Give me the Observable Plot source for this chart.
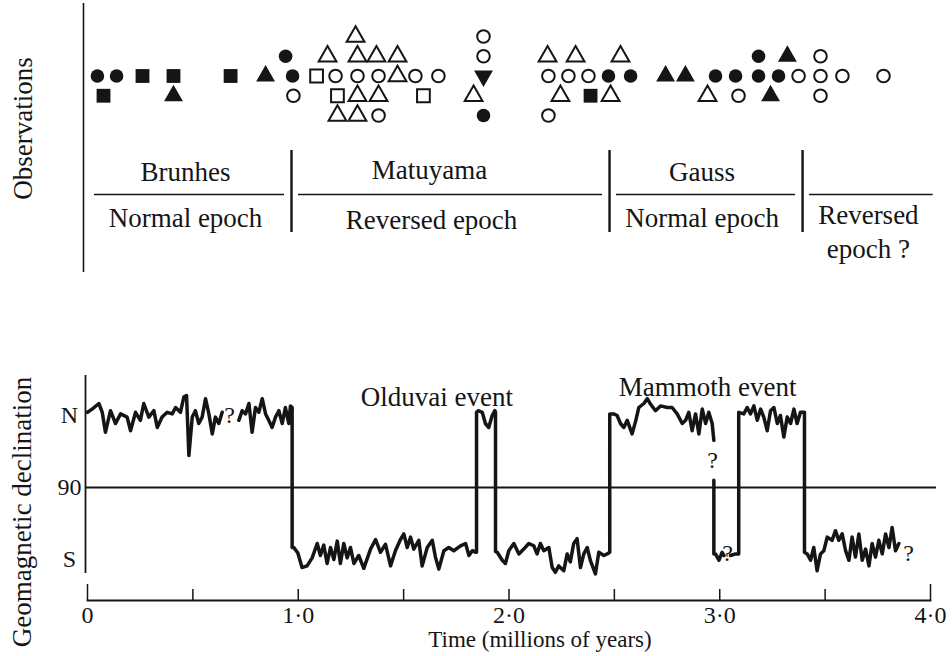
<!DOCTYPE html>
<html><head><meta charset="utf-8">
<script src="https://cdn.jsdelivr.net/npm/d3@7"></script>
<script src="https://cdn.jsdelivr.net/npm/@observablehq/plot@0.6"></script>
<style>
html,body{margin:0;padding:0;background:#fff;}
#chart{width:952px;height:656px;overflow:hidden;background:#fff;}
#chart svg{display:block;}
</style></head><body><div id="chart"></div>
<script>
// ---------- Observations (time in Myr, row = stacking level) ----------
const obsTime = [
  0.047,0.138,0.261,0.408,0.679,0.845,0.973,1.087,1.177,1.281,1.381,1.471,1.556,1.665,1.879,
  2.187,2.282,2.377,2.472,2.577,2.743,2.837,2.980,3.075,3.184,3.279,3.374,3.478,3.582,3.777,
  0.940,1.139,1.281,1.371,1.471,1.879,2.183,2.316,2.529,3.184,3.321,3.478,
  1.272,1.879,
  0.076,0.408,0.977,1.186,1.281,1.381,1.594,1.832,2.244,2.387,2.482,2.942,3.089,3.241,3.478,
  1.186,1.281,1.381,1.879,2.187
];
const obsRow = [
  0,0,0,0,0,0,0,0,0,0,0,0,0,0,0,
  0,0,0,0,0,0,0,0,0,0,0,0,0,0,0,
  1,1,1,1,1,1,1,1,1,1,1,1,
  2,2,
  -1,-1,-1,-1,-1,-1,-1,-1,-1,-1,-1,-1,-1,-1,-1,
  -2,-2,-2,-2,-2
];
const obsShape = [
  "circle","circle","square","square","square","triangle","circle","square","circle","circle","circle","triangle","circle","circle","triangleDown",
  "circle","circle","circle","circle","circle","triangle","triangle","circle","circle","circle","circle","circle","circle","circle","circle",
  "circle","triangle","triangle","triangle","triangle","circle","triangle","triangle","triangle","circle","triangle","circle",
  "triangle","circle",
  "square","triangle","circle","square","triangle","triangle","square","triangle","triangle","square","triangle","triangle","circle","triangle","circle",
  "triangle","triangle","circle","circle","circle"
];
const obsFill = [
  "filled","filled","filled","filled","filled","filled","filled","open","open","open","open","open","open","open","filled",
  "open","open","open","filled","filled","filled","filled","filled","filled","filled","filled","open","open","open","open",
  "filled","open","open","open","open","open","open","open","open","filled","filled","open",
  "open","open",
  "filled","filled","open","open","open","open","open","open","open","filled","open","open","open","filled","open",
  "open","open","open","filled","open"
];

// ---------- Epochs ----------
const epochName = ["Brunhes", "Matuyama", "Gauss", ""];
const epochKind = ["Normal epoch", "Reversed epoch", "Normal epoch", "Reversed\nepoch ?"];
const epochStart = [0, 0.968, 2.477, 3.393];
const epochEnd = [0.968, 2.477, 3.393, 4.046];

// ---------- Geomagnetic declination record ----------
const sigTime = [
  0.000,0.022,0.054,0.070,0.085,0.109,0.133,0.157,0.188,0.204,0.228,0.251,0.267,0.291,0.315,0.331,0.354,0.378,0.402,0.418,
  0.441,0.457,0.470,0.481,0.497,0.512,0.528,0.544,0.560,0.576,0.592,0.607,0.623,0.639,null,
  0.718,0.734,0.750,0.766,0.781,0.797,0.813,0.829,0.845,0.860,0.876,0.892,0.908,0.924,0.939,0.955,0.963,0.971,
  0.971,0.979,0.998,1.018,1.042,1.066,1.090,1.105,1.121,1.137,1.153,1.169,1.185,1.200,1.216,1.232,1.248,1.264,1.287,
  1.311,1.343,1.367,1.390,1.414,1.438,1.461,1.485,1.501,1.517,1.533,1.548,1.572,1.588,1.612,1.636,1.651,1.667,1.691,
  1.714,1.738,1.770,1.794,1.810,1.826,1.842,1.846,
  1.846,1.854,1.873,1.888,1.904,1.920,1.933,1.936,
  1.936,1.944,1.968,1.983,1.999,2.023,2.047,2.070,2.094,2.118,2.133,2.149,2.165,2.189,2.205,2.220,2.236,2.260,2.276,
  2.291,2.307,2.323,2.339,2.355,2.371,2.386,2.410,2.426,2.450,2.466,2.478,
  2.478,2.497,2.513,2.529,2.545,2.561,2.584,2.600,2.616,2.640,2.656,2.672,2.695,2.719,2.751,2.774,2.798,2.822,2.838,
  2.853,2.869,2.885,2.901,2.917,2.933,2.948,2.964,2.972,null,
  2.972,2.972,2.980,2.996,3.011,3.020,null,
  3.051,3.075,3.090,
  3.090,3.114,3.130,3.146,3.162,3.178,3.194,3.209,3.225,3.241,3.257,3.273,3.288,3.304,3.320,3.336,3.352,3.367,3.383,3.399,3.402,
  3.402,3.415,3.431,3.446,3.462,3.478,3.494,3.510,3.533,3.549,3.565,3.581,3.597,3.613,3.628,3.644,3.660,3.676,3.692,
  3.708,3.723,3.739,3.755,3.771,3.787,3.803,3.818,3.834,3.850
];
const sigDecl = [
  -4,-8,-15,-4,21,-6,10,-2,2,19,-4,6,-15,2,-6,15,2,-4,-2,-10,
  -4,-23,-25,50,2,-6,10,2,-21,-2,23,2,10,-4,null,
  6,-6,-2,-15,21,-10,-4,-21,-2,6,15,2,-6,10,-10,10,-12,-10,
  165,165,172,190,188,178,160,175,162,185,165,180,157,185,160,178,165,185,175,
  191,167,155,171,161,188,169,155,148,165,152,167,156,188,165,156,177,192,169,
  165,169,163,160,175,169,171,171,
  -4,-6,-4,10,15,0,-6,-4,
  170,171,181,185,169,160,173,167,160,163,173,160,169,165,190,196,188,194,173,
  183,160,154,190,173,165,181,198,171,175,173,171,
  -2,-2,0,10,15,6,23,8,-10,-15,-21,-14,-6,-12,-10,-10,-2,10,6,
  -4,19,-2,23,-8,10,-4,10,31,null,
  81,173,173,181,171,175,null,
  175,173,173,
  -4,-2,-10,-2,-12,6,-8,2,19,-6,-10,10,0,27,2,10,-8,10,-4,-4,-4,
  171,173,181,165,194,173,169,152,156,144,156,148,169,181,152,177,148,181,167,
  188,160,177,156,173,148,165,140,169,160
];

// uncertain points "?"
const qTime = [0.674, 2.966, 3.037, 3.896];
const qDecl = [0, 56, 172, 172];

// named events
const eventName = ["Olduvai event", "Mammoth event"];
const eventTime = [1.658, 2.942];
const eventDecl = [-23, -35];

// axes
const declTicks = [0, 90, 180];
const declTickLabels = ["N", "90", "S"];
const xMajor = [0, 1, 2, 3, 4];
const xMajorLabels = ["0", "1\u00b70", "2\u00b70", "3\u00b70", "4\u00b70"];
const xMinorTicks = [0.5, 1, 1.5, 2, 2.5, 3, 3.5];
const xEndTicks = [0, 4];
const obsLabel = "Observations";
const declLabel = "Geomagnetic declination";
const timeLabel = "Time (millions of years)";

// ---------- build ----------
const ink = "#151515";
const FONT = "'Liberation Serif', 'Times New Roman', serif";
const obs = obsTime.map((t, i) => ({t, row: obsRow[i], shape: obsShape[i], filled: obsFill[i] === "filled"}));
const epochs = epochName.map((n, i) => ({name: n, kind: epochKind[i], start: epochStart[i], end: epochEnd[i], mid: (epochStart[i] + epochEnd[i]) / 2}));
const signal = sigTime.map((t, i) => ({t, decl: sigDecl[i]}));
const qs = qTime.map((t, i) => ({t, decl: qDecl[i]}));
const events = eventName.map((n, i) => ({name: n, t: eventTime[i], decl: eventDecl[i]}));

const triangleDown = {
  draw(ctx, size) {
    const y = Math.sqrt(size / (3 * Math.sqrt(3)));
    ctx.moveTo(0, 2 * y);
    ctx.lineTo(Math.sqrt(3) * y, -y);
    ctx.lineTo(-Math.sqrt(3) * y, -y);
    ctx.closePath();
  }
};
const symbolOf = {circle: "circle", square: "square", triangle: "triangle", triangleDown};
const rFilled = {circle: 6.8, square: 7.8, triangle: 7.0, triangleDown: 7.0};
const rOpen = {circle: 6.3, square: 7.2, triangle: 6.6, triangleDown: 6.6};
const dotMarks = [];
for (const s of Object.keys(symbolOf)) {
  dotMarks.push(Plot.dot(obs.filter(d => d.shape === s && d.filled), {x: "t", y: "row", symbol: symbolOf[s], r: rFilled[s], fill: ink, stroke: "none"}));
  dotMarks.push(Plot.dot(obs.filter(d => d.shape === s && !d.filled), {x: "t", y: "row", symbol: symbolOf[s], r: rOpen[s], fill: "white", stroke: ink, strokeWidth: 2}));
}

const txt = {fill: ink, fontSize: 27, lineAnchor: "middle", textAnchor: "middle"};

const topPlot = Plot.plot({
  width: 952, height: 290,
  marginLeft: 87, marginRight: 22, marginTop: 0, marginBottom: 0,
  x: {domain: [0, 4], axis: null},
  y: {domain: [-2, 2], range: [115, 36], axis: null},
  style: {fontFamily: FONT, background: "white", color: ink},
  marks: [
    Plot.ruleX([0], {dx: -4, insetTop: 3, insetBottom: 18, stroke: ink, strokeWidth: 1.6}),
    Plot.ruleX(epochs.slice(1), {x: "start", insetTop: 150, insetBottom: 58, stroke: ink, strokeWidth: 2.4}),
    Plot.ruleY(epochs, {y: null, x1: "start", x2: "end", dy: 49, insetLeft: 7, insetRight: 7, stroke: ink, strokeWidth: 1.7}),
    Plot.text(epochs, {...txt, filter: d => d.name !== "Matuyama" && d.name !== "", x: "mid", text: "name", frameAnchor: "top", dy: 172, dx: -4}),
    Plot.text(epochs, {...txt, filter: d => d.name === "Matuyama", x: "mid", text: "name", frameAnchor: "top", dy: 170, dx: -21}),
    Plot.text(epochs, {...txt, filter: d => d.name !== "Matuyama" && d.name !== "", x: "mid", text: "kind", frameAnchor: "top", dy: 218, dx: -4}),
    Plot.text(epochs, {...txt, filter: d => d.name === "Matuyama", x: "mid", text: "kind", frameAnchor: "top", dy: 220, dx: -19}),
    Plot.text(epochs, {...txt, filter: d => d.name === "", x: "mid", text: "kind", frameAnchor: "top", dy: 230, dx: -3, lineHeight: 1.26}),
    Plot.text([obsLabel], {...txt, frameAnchor: "left", dx: -64, dy: -17, rotate: -90}),
    ...dotMarks
  ]
});

const bottomPlot = Plot.plot({
  width: 952, height: 366,
  marginLeft: 87, marginRight: 22, marginTop: 85, marginBottom: 56,
  x: {domain: [0, 4]},
  y: {domain: [0, 180], range: [125, 269]},
  style: {fontFamily: FONT, background: "white", color: ink},
  marks: [
    Plot.frame({anchor: "bottom", stroke: ink, strokeWidth: 1.8}),
    Plot.ruleX([0], {dx: -2, insetBottom: 27, stroke: ink, strokeWidth: 1.8}),
    Plot.ruleX(xMinorTicks, {insetTop: 214, stroke: ink, strokeWidth: 1.5}),
    Plot.ruleX(xEndTicks, {insetTop: 209, stroke: ink, strokeWidth: 1.5}),
    Plot.ruleY([90], {insetLeft: -2, insetRight: -6, stroke: ink, strokeWidth: 2}),
    Plot.axisX(xMajor, {tickSize: 0, tickPadding: 5, label: null, fontSize: 24, tickFormat: d => xMajorLabels[xMajor.indexOf(d)]}),
    Plot.axisY(declTicks, {tickSize: 0, tickPadding: 18, textAnchor: "middle", label: null, fontSize: 24, tickFormat: d => declTickLabels[declTicks.indexOf(d)]}),
    Plot.line(signal, {x: "t", y: "decl", stroke: ink, strokeWidth: 3.5, strokeLinejoin: "round"}),
    Plot.text(qs, {x: "t", y: "decl", text: () => "?", fontSize: 24, fill: ink}),
    Plot.text(events, {x: "t", y: "decl", text: "name", fontSize: 27, fill: ink}),
    Plot.text([timeLabel], {...txt, fontSize: 23, frameAnchor: "bottom", dx: 31, dy: 39}),
    Plot.text([declLabel], {...txt, frameAnchor: "left", dx: -65, dy: 24, rotate: -90})
  ]
});

const root = document.getElementById("chart");
root.appendChild(topPlot);
root.appendChild(bottomPlot);
</script></body></html>
